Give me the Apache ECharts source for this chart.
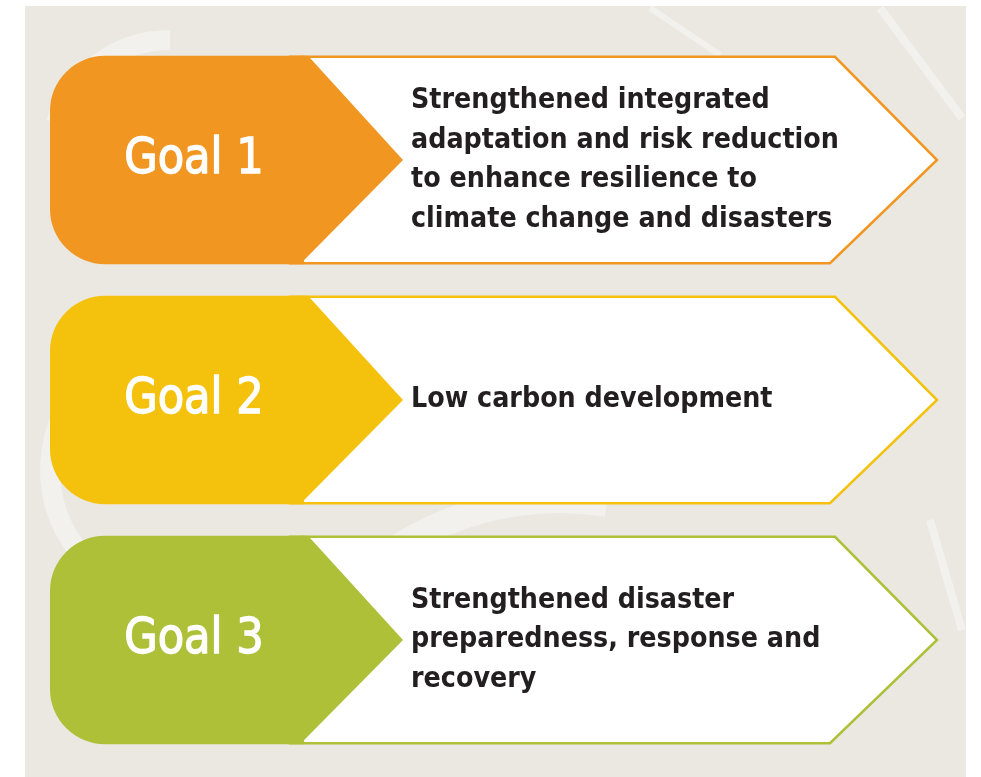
<!DOCTYPE html>
<html>
    <head>
        <meta charset="utf-8">
        <script src="https://cdn.jsdelivr.net/npm/echarts@6/dist/echarts.min.js"></script>
    </head>
    <body style="margin:0">
        <style>
            #main {
                position: absolute;
                left: 0;
                top: 0;
                width: 981px;
                height: 777px;
            }
        </style>
        <div id="main"></div>

        <script>
            var goals = ['Goal 1', 'Goal 2', 'Goal 3'];
            var descriptions = [
                'Strengthened integrated\nadaptation and risk reduction\nto enhance resilience to\nclimate change and disasters',
                'Low carbon development',
                'Strengthened disaster\npreparedness, response and\nrecovery'
            ];
            var goalColors = ['#f29622', '#f4c20d', '#adc038'];

            var chart = echarts.init(document.getElementById('main'));

            function renderGoal(params, api) {
                var idx = api.value(1);
                var cy = api.coord([0, idx])[1];
                var band = api.size([0, 1])[1];
                var h = band * 0.86;
                var top = cy - h / 2;
                var bottom = cy + h / 2;
                var color = goalColors[idx];
                return {
                    type: 'group',
                    children: [
                        {
                            type: 'polygon',
                            shape: {
                                points: [[290, top], [835, top], [937, cy], [830, bottom], [290, bottom]]
                            },
                            style: {fill: '#fff', stroke: color, lineWidth: 2.5, lineJoin: 'miter'}
                        },
                        {
                            type: 'rect',
                            shape: {x: 50, y: top - 1, width: 254, height: h + 2, r: [55, 0, 0, 55]},
                            style: {fill: color}
                        },
                        {
                            type: 'polygon',
                            shape: {
                                points: [[300, top - 1], [308, top - 1], [403, cy], [300, bottom + 1]]
                            },
                            style: {fill: color}
                        },
                        {
                            type: 'text',
                            x: 194, y: cy,
                            scaleX: 0.96,
                            style: {
                                x: 0, y: 0,
                                text: goals[idx],
                                fill: '#fff',
                                stroke: '#fff',
                                lineWidth: 1.3,
                                font: 'normal 50px "DejaVu Sans Condensed", "DejaVu Sans"',
                                align: 'center',
                                verticalAlign: 'middle'
                            }
                        },
                        {
                            type: 'text',
                            style: {
                                x: 411, y: cy,
                                text: descriptions[idx],
                                fill: '#231f20',
                                font: 'bold 28.3px "DejaVu Sans Condensed", "DejaVu Sans"',
                                lineHeight: 39.5,
                                align: 'left',
                                verticalAlign: 'middle'
                            }
                        }
                    ]
                };
            }

            chart.setOption({
                backgroundColor: '#fff',
                animation: false,
                graphic: [
                    {type: 'rect', z: -10, shape: {x: 25, y: 6, width: 941, height: 771}, style: {fill: '#ebe8e2'}},
                    {type: 'arc', z: -9, shape: {cx: 170, cy: 160, r: 120, startAngle: Math.PI * 1.1, endAngle: Math.PI * 1.5}, style: {stroke: '#f2f1ed', lineWidth: 20, fill: null}},
                    {type: 'arc', z: -9, shape: {cx: 560, cy: 800, r: 300, startAngle: Math.PI * 1.15, endAngle: Math.PI * 1.55}, style: {stroke: '#f2f1ed', lineWidth: 26, fill: null}},
                    {type: 'arc', z: -9, shape: {cx: 180, cy: 470, r: 130, startAngle: Math.PI * 0.7, endAngle: Math.PI * 1.3}, style: {stroke: '#f2f1ed', lineWidth: 20, fill: null}},
                    {type: 'line', z: -9, shape: {x1: 650, y1: 8, x2: 720, y2: 55}, style: {stroke: '#f2f1ed', lineWidth: 6}},
                    {type: 'line', z: -9, shape: {x1: 880, y1: 8, x2: 962, y2: 118}, style: {stroke: '#f2f1ed', lineWidth: 8}},
                    {type: 'line', z: -9, shape: {x1: 930, y1: 520, x2: 962, y2: 630}, style: {stroke: '#f2f1ed', lineWidth: 8}}
                ],
                grid: {left: 0, right: 0, top: 40, bottom: 17},
                xAxis: {type: 'value', min: 0, max: 981, show: false},
                yAxis: {type: 'category', data: goals, inverse: true, show: false},
                series: [{
                    type: 'custom',
                    renderItem: renderGoal,
                    data: goals.map(function (g, i) { return [0, i]; })
                }]
            });
        </script>
    </body>
</html>
